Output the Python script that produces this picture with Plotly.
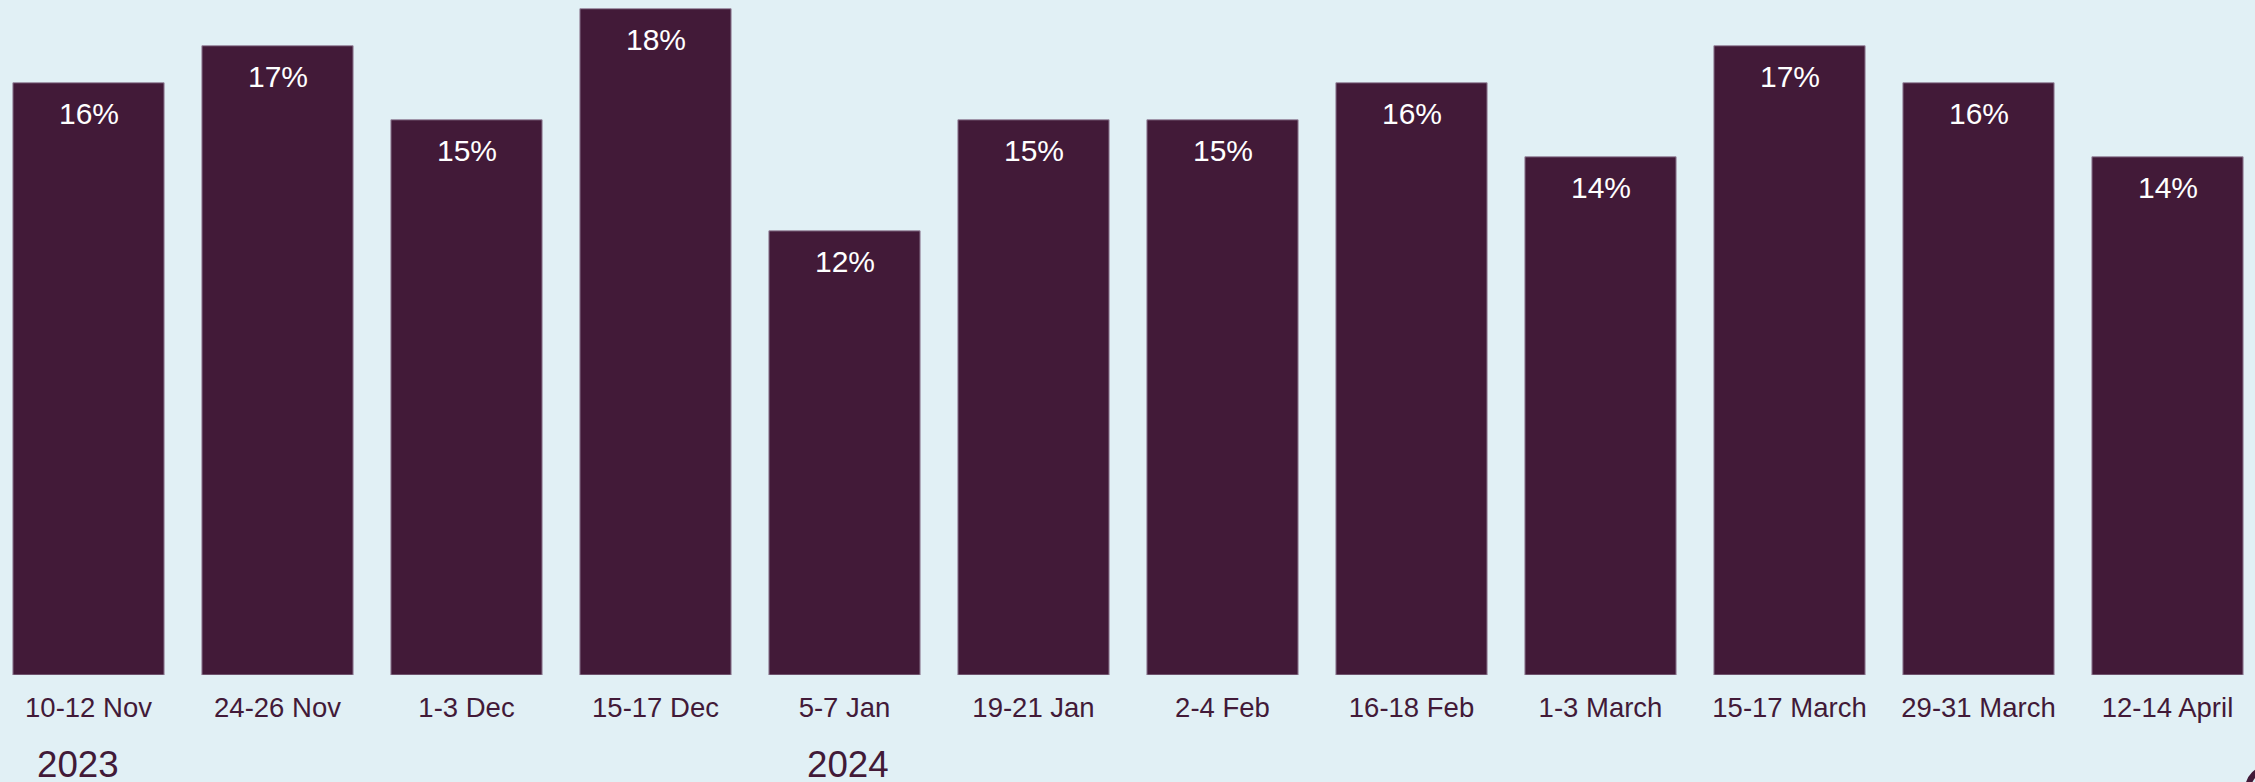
import plotly.graph_objects as go

categories = ["10-12 Nov", "24-26 Nov", "1-3 Dec", "15-17 Dec", "5-7 Jan", "19-21 Jan",
              "2-4 Feb", "16-18 Feb", "1-3 March", "15-17 March", "29-31 March", "12-14 April"]
values = [16, 17, 15, 18, 12, 15, 15, 16, 14, 17, 16, 14]
value_labels = [f"{v}%" for v in values]
year_labels = ["2023", "2024"]
year_positions = [-0.056, 4.016]

BAR = "#421a38"
BG = "#e1f0f5"
FONT = "Liberation Sans"
W, H = 2255, 782
plot_bottom = 674.7

fig = go.Figure()
fig.add_trace(go.Bar(
    x=list(range(len(categories))), y=values,
    marker=dict(color=BAR, line=dict(color="#9a8aa0", width=1)),
    width=0.8, hoverinfo="skip",
))

for i, (v, t) in enumerate(zip(values, value_labels)):
    fig.add_annotation(x=i, y=v, xref="x", yref="y", text=t, showarrow=False,
                       yanchor="top", yshift=-12,
                       font=dict(family=FONT, size=30, color="white"))

for yl, xp in zip(year_labels, year_positions):
    fig.add_annotation(x=xp, y=-0.099, xref="x", yref="paper", text=yl, showarrow=False,
                       yanchor="top", xanchor="center",
                       font=dict(family=FONT, size=36.7, color=BAR))

# partial logo ring at bottom-right
fig.add_shape(type="circle", xref="paper", yref="paper",
              x0=2248/W, x1=2290/W, y0=(plot_bottom-810)/plot_bottom, y1=(plot_bottom-768)/plot_bottom,
              line=dict(color=BAR, width=6), fillcolor="rgba(0,0,0,0)")

pitch = 189.0
c0 = 88.5
fig.update_layout(
    width=W, height=H,
    margin=dict(l=0, r=0, t=0, b=H - plot_bottom, pad=0),
    paper_bgcolor=BG, plot_bgcolor=BG,
    showlegend=False,
    xaxis=dict(range=[(0 - c0) / pitch, (W - c0) / pitch],
               tickmode="array", tickvals=list(range(len(categories))), ticktext=categories,
               ticks="outside", ticklen=8, tickcolor="rgba(0,0,0,0)",
               tickfont=dict(family=FONT, size=27.5, color=BAR),
               showgrid=False, zeroline=False, showline=False),
    yaxis=dict(range=[0, plot_bottom / 37.0], visible=False, showgrid=False, zeroline=False),
)

fig.write_html("out.html")
